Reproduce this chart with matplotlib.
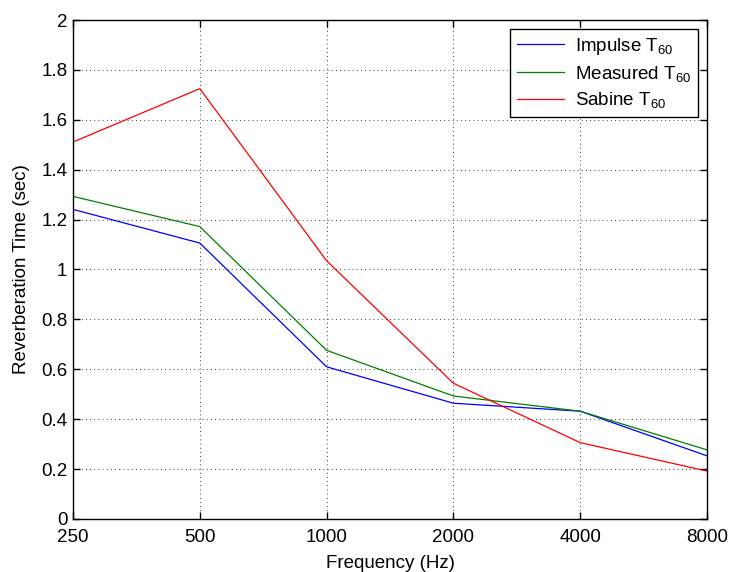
import matplotlib
matplotlib.use("Agg")
import matplotlib.pyplot as plt
from matplotlib.ticker import FixedLocator, FixedFormatter, NullLocator

plt.rcParams['font.family'] = ['Liberation Sans', 'DejaVu Sans']
plt.rcParams['mathtext.fontset'] = 'custom'
plt.rcParams['mathtext.rm'] = 'Liberation Sans'
plt.rcParams['mathtext.it'] = 'Liberation Sans'

freqs = [250, 500, 1000, 2000, 4000, 8000]
freq_labels = ['250', '500', '1000', '2000', '4000', '8000']
impulse = [1.241, 1.106, 0.610, 0.464, 0.432, 0.253]
measured = [1.293, 1.172, 0.676, 0.493, 0.432, 0.277]
sabine = [1.511, 1.725, 1.035, 0.544, 0.306, 0.192]
yticks = [0, 0.2, 0.4, 0.6, 0.8, 1, 1.2, 1.4, 1.6, 1.8, 2]
ylabels = ['0', '0.2', '0.4', '0.6', '0.8', '1', '1.2', '1.4', '1.6', '1.8', '2']

FS = 13.5
fig = plt.figure(figsize=(7.3, 5.72), dpi=100)
ax = fig.add_axes([0.1, 0.0927, 0.8685, 0.8723])
ax.plot(freqs, impulse, color='#0000ff', lw=0.9, label='Impulse T$_{60}$')
ax.plot(freqs, measured, color='#008000', lw=0.9, label='Measured T$_{60}$')
ax.plot(freqs, sabine, color='#ff0000', lw=0.9, label='Sabine T$_{60}$')

ax.set_xscale('log')
ax.set_xlim(250, 8000)
ax.set_ylim(0, 2)
ax.xaxis.set_major_locator(FixedLocator(freqs))
ax.xaxis.set_major_formatter(FixedFormatter(freq_labels))
ax.xaxis.set_minor_locator(NullLocator())
ax.set_yticks(yticks)
ax.set_yticklabels(ylabels)
ax.tick_params(direction='in', top=True, right=True, labelsize=FS, length=5, width=1.0, pad=4)
ax.tick_params(axis='x', pad=7)
ax.grid(True, color='black', linestyle=(0, (1, 4)), linewidth=0.6)
for s in ax.spines.values():
    s.set_linewidth(1.0)
ax.set_xlabel('Frequency (Hz)', fontsize=FS, labelpad=7)
ax.set_ylabel('Reverberation Time (sec)', fontsize=FS, labelpad=8)
leg = ax.legend(loc='upper right', fontsize=FS, frameon=True, fancybox=False,
                edgecolor='black', framealpha=1, handlelength=2.5, borderaxespad=0.5,
                labelspacing=0.35, borderpad=0.35, handletextpad=0.6)
leg.get_frame().set_linewidth(1.0)
fig.savefig('out.png', dpi=100)
